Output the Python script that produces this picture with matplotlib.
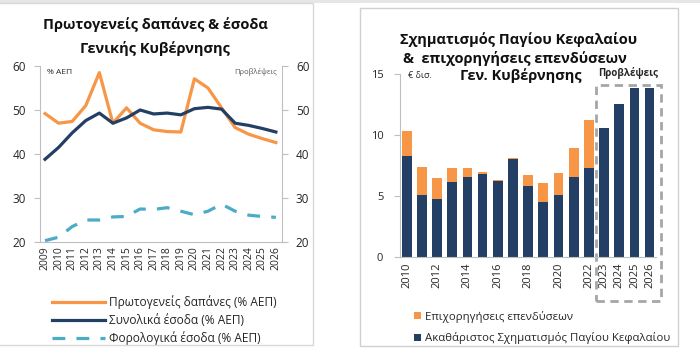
import matplotlib
matplotlib.use("Agg")
import matplotlib.pyplot as plt
from matplotlib.patches import Rectangle, Patch

plt.rcParams["font.family"] = ["Open Sans", "DejaVu Sans"]

# left panel: primary expenditure & revenue, % of GDP
years_l = list(range(2009, 2027))
primary_exp = [49.2, 47.0, 47.4, 51.0, 58.5, 47.0, 50.5, 47.0, 45.5, 45.1, 45.0,
               57.1, 55.0, 50.5, 46.0, 44.5, 43.5, 42.6]
total_rev = [38.8, 41.5, 44.8, 47.6, 49.3, 47.0, 48.2, 50.0, 49.1, 49.3, 48.9,
             50.3, 50.6, 50.2, 47.0, 46.5, 45.8, 45.0]
tax_rev = [20.3, 21.1, 23.5, 25.0, 25.0, 25.7, 25.8, 27.5, 27.4, 27.8, 27.0,
           26.2, 27.0, 28.6, 27.0, 26.1, 25.8, 25.6]

# right panel: fixed capital formation & investment grants, EUR bn
years_r = list(range(2010, 2027))
gfcf = [8.27, 5.04, 4.77, 6.16, 6.55, 6.77, 6.25, 8.05, 5.80, 4.49, 5.10, 6.58, 7.26,
        10.6, 12.55, 13.85, 13.85]
grants = [2.09, 2.36, 1.73, 1.10, 0.74, 0.19, 0.05, 0.05, 0.91, 1.54, 1.75, 2.35, 3.97,
          0, 0, 0, 0]
xticks_r = [2010, 2012, 2014, 2016, 2018, 2020, 2022, 2023, 2024, 2025, 2026]
forecast_r = [2023, 2024, 2025, 2026]

ORANGE = "#F79646"
NAVY = "#243F66"
TEAL = "#4BACC6"
GRAY = "#BFBFBF"
TXT = "#262626"

W, H = 700, 358
fig = plt.figure(figsize=(7.0, 3.58), dpi=100)


def fbox(x0, y0, x1, y1):
    # pixel box (top-left origin) -> figure fractions
    return [x0 / W, 1 - y1 / H, (x1 - x0) / W, (y1 - y0) / H]


# background frames
fig.patches.append(Rectangle((0, 1 - 3 / H), 1, 3 / H, transform=fig.transFigure,
                             facecolor="#E6E6E6", edgecolor="none"))
fig.patches.append(Rectangle((-0.01, 1 - 345 / H), 312.5 / W + 0.01, 342 / H,
                             transform=fig.transFigure, facecolor="none",
                             edgecolor="#D9D9D9", lw=1))
fig.patches.append(Rectangle((360 / W, 1 - 346 / H), 318 / W, 338 / H,
                             transform=fig.transFigure, facecolor="none",
                             edgecolor="#D0D0D0", lw=1))

# ---- left chart
ax = fig.add_axes(fbox(40, 66, 282, 242))
ax.plot(years_l, primary_exp, color=ORANGE, lw=2.3, label="Πρωτογενείς δαπάνες (% ΑΕΠ)")
ax.plot(years_l, total_rev, color=NAVY, lw=2.3, label="Συνολικά έσοδα (% ΑΕΠ)")
ax.plot(years_l, tax_rev, color=TEAL, lw=2.3, dashes=(4, 3.5), label="Φορολογικά έσοδα (% ΑΕΠ)")
ax.set_xlim(2008.63, 2026.45)
ax.set_ylim(20, 60)
ax.set_yticks([20, 30, 40, 50, 60])
ax.set_xticks(years_l)
ax.set_xticklabels([str(y) for y in years_l], rotation=90, fontsize=7.5, color=TXT)
ax.tick_params(axis="x", length=0, pad=3)
ax.tick_params(axis="y", direction="out", length=4, color=GRAY, labelsize=8.5,
               labelcolor=TXT, pad=6)
for s in ["top", "right"]:
    ax.spines[s].set_visible(False)
for s in ["left", "bottom"]:
    ax.spines[s].set_color(GRAY)

ax2 = ax.twinx()
ax2.set_ylim(20, 60)
ax2.set_yticks([20, 30, 40, 50, 60])
ax2.tick_params(axis="y", direction="out", length=4, color=GRAY, labelsize=8.5,
                labelcolor=TXT, pad=6)
for s in ["top", "left", "bottom"]:
    ax2.spines[s].set_visible(False)
ax2.spines["right"].set_color(GRAY)

fig.text(155 / W, 1 - 25 / H, "Πρωτογενείς δαπάνες & έσοδα", ha="center", va="center",
         fontsize=10.5, fontweight="bold", color="#111111")
fig.text(155 / W, 1 - 49 / H, "Γενικής Κυβέρνησης", ha="center", va="center",
         fontsize=10.5, fontweight="bold", color="#111111")
fig.text(47 / W, 1 - 72 / H, "% ΑΕΠ", ha="left", va="center", fontsize=6, color=TXT)
fig.text(277 / W, 1 - 72 / H, "Προβλέψεις", ha="right", va="center", fontsize=5.5,
         color="#595959")

ax.legend(loc="upper left", bbox_to_anchor=(46 / W, 1 - 289.5 / H),
          bbox_transform=fig.transFigure, frameon=False, fontsize=8.6,
          handlelength=4.4, handletextpad=0.4, labelspacing=0.38, borderpad=0,
          labelcolor=TXT)

# ---- right chart
axr = fig.add_axes(fbox(400, 74.3, 656, 256.7))
bw = 0.64
axr.bar(years_r, gfcf, width=bw, color=NAVY, label="Ακαθάριστος Σχηματισμός Παγίου Κεφαλαίου")
axr.bar(years_r, grants, width=bw, bottom=gfcf, color=ORANGE, label="Επιχορηγήσεις επενδύσεων")
axr.set_xlim(2009.56, 2026.42)
axr.set_ylim(0, 15)
axr.set_yticks([0, 5, 10, 15])
axr.set_xticks(xticks_r)
axr.set_xticklabels([str(y) for y in xticks_r], rotation=90, fontsize=8, color=TXT)
axr.tick_params(axis="x", length=0, pad=4)
axr.tick_params(axis="y", direction="out", length=4, color=GRAY, labelsize=8,
                labelcolor=TXT, pad=8)
for s in ["top", "right"]:
    axr.spines[s].set_visible(False)
for s in ["left", "bottom"]:
    axr.spines[s].set_color(GRAY)

# forecast box
x0 = forecast_r[0] - 0.55
x1 = forecast_r[-1] + 0.75
axr.add_patch(Rectangle((x0, -3.65), x1 - x0, 17.77, facecolor="none", edgecolor="#A6A6A6",
                        lw=2, ls=(0, (3, 2)), clip_on=False))
axr.text((x0 + x1) / 2, 15.1, "Προβλέψεις", ha="center", va="center", fontsize=7,
         fontweight="bold", color=TXT)

fig.text(519 / W, 1 - 40 / H, "Σχηματισμός Παγίου Κεφαλαίου", ha="center", va="center",
         fontsize=10.5, fontweight="bold", color="#111111")
fig.text(515 / W, 1 - 58 / H, "&  επιχορηγήσεις επενδύσεων", ha="center", va="center",
         fontsize=10.5, fontweight="bold", color="#111111")
fig.text(521 / W, 1 - 76 / H, "Γεν. Κυβέρνησης", ha="center", va="center",
         fontsize=10.5, fontweight="bold", color="#111111")
fig.text(408 / W, 1 - 76 / H, "€ δισ.", ha="left", va="center", fontsize=6.5, color=TXT)

hr = [Patch(facecolor=ORANGE), Patch(facecolor=NAVY)]
axr.legend(hr, ["Επιχορηγήσεις επενδύσεων", "Ακαθάριστος Σχηματισμός Παγίου Κεφαλαίου"],
           loc="upper left", bbox_to_anchor=(408 / W, 1 - 305 / H),
           bbox_transform=fig.transFigure, frameon=False, fontsize=8.2,
           handlelength=0.6, handleheight=0.6, handletextpad=0.35, labelspacing=0.85,
           borderpad=0, labelcolor=TXT)

fig.savefig("out.png", dpi=100)
